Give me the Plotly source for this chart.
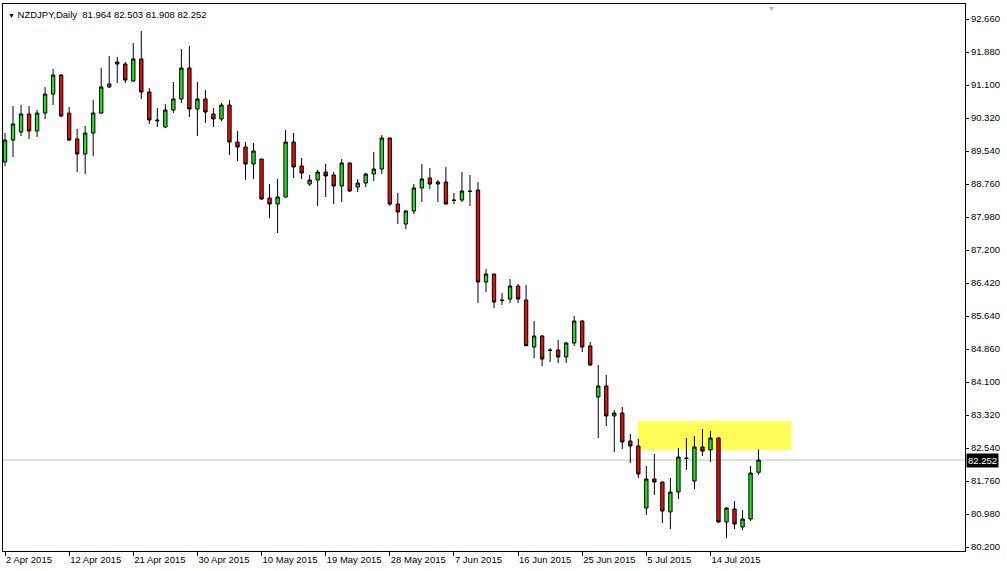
import pandas as pd
import plotly.graph_objects as go

# ---- data (NZDJPY daily) ----
OPEN = [89.285, 89.804, 89.993, 90.418, 90.017, 90.441, 90.890, 91.338, 90.441, 89.828,
        89.474, 89.970, 90.441, 91.055, 91.645, 91.598, 91.197, 91.716, 90.937, 90.276,
        90.111, 90.512, 90.772, 91.503, 90.536, 90.772, 90.418, 90.300, 90.630, 89.757,
        89.639, 89.238, 89.356, 88.436, 88.294, 88.459, 89.757, 89.191, 88.766, 88.860,
        89.049, 88.978, 88.719, 89.262, 88.695, 88.790, 89.002, 89.120, 89.852, 88.294,
        87.822, 88.129, 88.672, 88.908, 88.766, 88.813, 88.388, 88.388, 88.601, 88.624,
        86.453, 86.642, 86.029, 86.052, 86.359, 86.029, 84.920, 85.179, 84.849, 84.849,
        84.684, 85.014, 85.533, 84.943, 83.740, 83.999, 83.291, 83.362, 82.701, 82.583,
        81.120, 81.805, 81.734, 81.026, 81.498, 82.300, 81.757, 82.560, 82.489, 82.772,
        80.790, 81.097, 80.672, 80.861, 81.964]
HIGH = [89.970, 90.607, 90.630, 90.607, 90.512, 91.055, 91.480, 91.360, 90.583, 90.064,
        90.135, 90.748, 91.503, 91.787, 91.763, 91.645, 92.093, 92.377, 91.031, 90.559,
        90.654, 91.173, 91.952, 92.023, 91.173, 90.984, 90.559, 90.677, 90.748, 90.017,
        89.757, 89.734, 89.360, 88.766, 88.884, 90.040, 89.970, 89.380, 88.978, 89.096,
        89.238, 89.049, 89.356, 89.270, 88.884, 89.026, 89.521, 89.922, 89.860, 88.554,
        88.152, 88.766, 89.238, 89.143, 88.860, 89.167, 88.554, 89.049, 88.978, 88.813,
        86.760, 86.650, 86.194, 86.524, 86.406, 86.383, 85.533, 85.203, 84.896, 85.085,
        85.038, 85.651, 85.557, 85.038, 84.495, 84.259, 83.433, 83.504, 82.867, 82.749,
        82.111, 82.395, 81.740, 81.828, 82.536, 82.772, 82.819, 82.985, 82.937, 82.796,
        81.144, 81.285, 81.073, 82.111, 82.503]
LOW = [89.191, 89.403, 89.899, 89.828, 89.875, 90.300, 90.630, 90.347, 89.781, 89.049,
       89.002, 89.427, 90.418, 91.031, 91.149, 91.149, 91.173, 90.772, 90.182, 90.111,
       90.088, 90.441, 90.677, 90.347, 89.899, 90.205, 90.111, 90.253, 89.450, 89.309,
       88.860, 88.884, 88.388, 87.964, 87.610, 88.450, 88.908, 88.884, 88.719, 88.247,
       88.459, 88.294, 88.341, 88.577, 88.577, 88.695, 88.837, 89.002, 88.247, 87.822,
       87.704, 88.058, 88.341, 88.648, 88.341, 88.280, 88.294, 88.341, 88.247, 85.958,
       86.217, 85.840, 85.911, 85.958, 85.958, 84.943, 84.660, 84.471, 84.566, 84.542,
       84.542, 84.943, 84.802, 84.471, 82.772, 83.055, 82.442, 82.513, 82.182, 81.828,
       80.955, 81.427, 80.766, 80.625, 81.333, 82.017, 81.569, 82.347, 82.206, 80.766,
       80.412, 80.625, 80.601, 80.813, 81.908]
CLOSE = [89.804, 90.182, 90.418, 90.017, 90.441, 90.890, 91.338, 90.371, 89.804, 89.474,
         89.970, 90.441, 91.055, 91.126, 91.598, 91.220, 91.716, 90.937, 90.276, 90.260,
         90.512, 90.772, 91.503, 90.536, 90.772, 90.465, 90.300, 90.630, 89.757, 89.639,
         89.238, 89.545, 88.412, 88.294, 88.459, 89.757, 89.167, 89.026, 88.860, 89.049,
         88.955, 88.719, 89.262, 88.601, 88.790, 89.002, 89.120, 89.852, 88.294, 88.105,
         88.129, 88.672, 88.884, 88.766, 88.813, 88.294, 88.380, 88.601, 88.590, 86.453,
         86.642, 85.981, 86.020, 86.359, 86.052, 84.950, 85.179, 84.636, 84.840, 84.684,
         85.014, 85.533, 84.920, 84.495, 83.999, 83.291, 83.362, 82.678, 82.583, 81.923,
         81.805, 81.734, 81.049, 81.498, 82.324, 82.290, 82.560, 82.465, 82.772, 80.790,
         81.120, 80.743, 80.861, 81.946, 82.252]

START_DATE = "2015-04-02"          # first bar; broker feed has Sunday bars, no Saturday bars
LABEL_EVERY = 8                    # date label every 8 bars
Y_TICK_LABELS = ["80.200", "80.980", "81.760", "82.540", "83.320", "84.100", "84.860",
                 "85.640", "86.420", "87.200", "87.980", "88.760", "89.540", "90.320",
                 "91.100", "91.880", "92.660"]
Y_MIN_TICK, Y_MAX_TICK = 80.200, 92.660
LAST_PRICE = 82.252
ZONE_LOW, ZONE_HIGH = 82.489, 83.173   # highlighted resistance zone
ZONE_FROM, ZONE_TO = 78.96, 98.1       # bar-index span of the zone
TITLE = "NZDJPY,Daily  81.964 82.503 81.908 82.252"

# ---- build ----
n = len(CLOSE)
days = pd.date_range(START_DATE, periods=200, freq="D")
days = [d for d in days if d.dayofweek != 5][:n]
idx = list(range(n))
tickvals = idx[::LABEL_EVERY]
ticktext = [f"{days[i].day} {days[i].strftime('%b %Y')}" for i in tickvals]
step = (Y_MAX_TICK - Y_MIN_TICK) / (len(Y_TICK_LABELS) - 1)
y_tickvals = [Y_MIN_TICK + k * step for k in range(len(Y_TICK_LABELS))]

FONT = "Liberation Sans, Arial, sans-serif"

fig = go.Figure()
fig.add_trace(go.Candlestick(
    x=idx, open=OPEN, high=HIGH, low=LOW, close=CLOSE,
    increasing=dict(line=dict(color="black", width=1), fillcolor="#22dd22"),
    decreasing=dict(line=dict(color="black", width=1), fillcolor="#e01010"),
    whiskerwidth=0, showlegend=False, hoverinfo="skip",
))

fig.add_shape(type="rect", xref="x", yref="y", x0=ZONE_FROM, x1=ZONE_TO,
              y0=ZONE_LOW, y1=ZONE_HIGH, fillcolor="#ffff55", line=dict(width=0),
              layer="below")
fig.add_shape(type="line", xref="paper", yref="y", x0=0, x1=1,
              y0=LAST_PRICE, y1=LAST_PRICE, line=dict(color="#c0c0c0", width=1),
              layer="below")

fig.add_annotation(xref="paper", yref="y", x=1, y=LAST_PRICE, xanchor="left",
                   yanchor="middle", xshift=1, text=f"{LAST_PRICE:.3f}", showarrow=False,
                   bgcolor="black", font=dict(color="white", size=9.5, family=FONT),
                   borderpad=1)
fig.add_annotation(xref="paper", yref="paper", x=0, y=1, xanchor="left", yanchor="top",
                   xshift=3, yshift=-3, showarrow=False,
                   text="<span style='font-size:7px'>▼</span> " + TITLE,
                   font=dict(color="black", size=9.5, family=FONT))
fig.add_annotation(xref="paper", yref="paper", x=(771 - 3) / 962, y=1, xanchor="center",
                   yanchor="top", yshift=1, showarrow=False, text="▼",
                   font=dict(color="#b0b0b0", size=7, family=FONT))

fig.update_layout(
    width=1007, height=571,
    margin=dict(l=3, r=42, t=4, b=20),
    paper_bgcolor="white", plot_bgcolor="white",
    font=dict(family=FONT, size=9.5, color="black"),
    boxgap=0.4,
    xaxis=dict(range=[-0.25, 119.75], tickvals=tickvals, ticktext=ticktext,
               ticks="outside", ticklen=4, tickcolor="black",
               ticklabelposition="outside right",
               showgrid=False, zeroline=False, showline=True, linecolor="black",
               linewidth=1, mirror=True, rangeslider=dict(visible=False),
               fixedrange=True),
    yaxis=dict(side="right", range=[80.106, 93.014], tickvals=y_tickvals,
               ticktext=Y_TICK_LABELS, ticks="outside", ticklen=3,
               tickcolor="black", showgrid=False, zeroline=False, showline=True,
               linecolor="black", linewidth=1, mirror=True, fixedrange=True),
)

fig.write_html(
    "out.html",
    config={"displayModeBar": False},
    post_script=("document.body.style.margin='0';"
                 "document.body.style.overflow='hidden';"
                 "document.documentElement.style.overflow='hidden';"),
)
